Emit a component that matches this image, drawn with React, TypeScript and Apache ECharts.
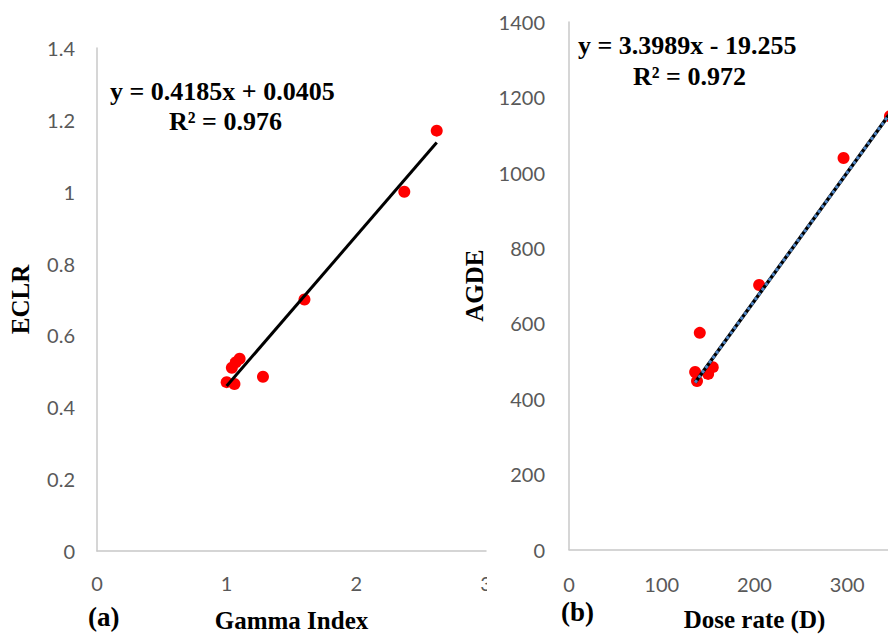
import React, { useEffect, useRef } from "react";
import * as echarts from "echarts";

// Panel (a): Gamma Index vs ECLR
const gammaIndex = [1.0, 1.06, 1.04, 1.07, 1.1, 1.28, 1.6, 2.37, 2.62];
const eclr = [0.47, 0.465, 0.51, 0.525, 0.535, 0.485, 0.70, 1.0, 1.17];
const fitA = { slope: 0.4185, intercept: 0.0405, r2: 0.976 };

// Panel (b): Dose rate vs AGDE
const doseRate = [136, 138, 141, 150, 155, 205, 296, 346];
const agde = [471, 447, 575, 466, 484, 702, 1039, 1150];
const fitB = { slope: 3.3989, intercept: -19.255, r2: 0.972 };

const tickFont = "Lato";
const serif = "'Liberation Serif', 'Times New Roman', serif";

function fitLine(xs: number[], f: { slope: number; intercept: number }) {
  const lo = Math.min(...xs);
  const hi = Math.max(...xs);
  return [
    [lo, f.slope * lo + f.intercept],
    [hi, f.slope * hi + f.intercept],
  ];
}

export default function App() {
  const ref = useRef<HTMLDivElement>(null);
  useEffect(() => {
    if (!ref.current) return;
    const chart = echarts.init(ref.current, null, { renderer: "svg" });
    const axisLine = { show: true, lineStyle: { color: "#c8c8c8", width: 1.5 } };
    const axisLabel = {
      color: "#595959", fontFamily: tickFont, fontSize: 20,
      formatter: (v: number) => String(v),
    };
    const nameStyle = { color: "#000", fontFamily: serif, fontWeight: "bold" as const, fontSize: 25 };
    chart.setOption({
      animation: false,
      backgroundColor: "#fff",
      grid: [
        { left: 97, top: 48, width: 389, height: 503, containLabel: false, outerBoundsMode: "none" },
        { left: 569, top: 22, width: 371, height: 527.5, containLabel: false, outerBoundsMode: "none" },
      ],
      xAxis: [
        {
          gridIndex: 0, type: "value", min: 0, max: 3, interval: 1,
          axisLine, axisTick: { show: false }, splitLine: { show: false },
          axisLabel: { ...axisLabel, margin: 22 },
          name: "Gamma Index", nameLocation: "middle", nameGap: 57, nameTextStyle: nameStyle,
        },
        {
          gridIndex: 1, type: "value", min: 0, max: 400, interval: 100,
          axisLine, axisTick: { show: false }, splitLine: { show: false },
          axisLabel: { ...axisLabel, margin: 24, showMaxLabel: false },
          name: "Dose rate (D)", nameLocation: "middle", nameGap: 57, nameTextStyle: nameStyle,
          nameTextStyleOffset: 0,
        },
      ],
      yAxis: [
        {
          gridIndex: 0, type: "value", min: 0, max: 1.4, interval: 0.2,
          axisLine, axisTick: { show: false }, splitLine: { show: false },
          axisLabel: { ...axisLabel, margin: 22 },
          name: "ECLR", nameLocation: "middle", nameGap: 64, nameTextStyle: nameStyle,
        },
        {
          gridIndex: 1, type: "value", min: 0, max: 1400, interval: 200,
          axisLine, axisTick: { show: false }, splitLine: { show: false },
          axisLabel: { ...axisLabel, margin: 24 },
          name: "AGDE", nameLocation: "middle", nameGap: 82, nameTextStyle: nameStyle,
        },
      ],
      series: [
        {
          type: "line", xAxisIndex: 0, yAxisIndex: 0, data: fitLine(gammaIndex, fitA),
          symbol: "none", lineStyle: { color: "#000", width: 3 }, z: 3,
        },
        {
          type: "scatter", xAxisIndex: 0, yAxisIndex: 0,
          data: gammaIndex.map((x, i) => [x, eclr[i]]),
          symbolSize: 12, itemStyle: { color: "#ff0000", opacity: 1 }, z: 2,
        },
        {
          type: "scatter", xAxisIndex: 1, yAxisIndex: 1,
          data: doseRate.map((x, i) => [x, agde[i]]),
          symbolSize: 12, itemStyle: { color: "#ff0000", opacity: 1 }, z: 2,
        },
        {
          type: "line", xAxisIndex: 1, yAxisIndex: 1, data: fitLine(doseRate, fitB),
          symbol: "none", lineStyle: { color: "#000", width: 3.5 }, z: 3,
        },
        {
          type: "line", xAxisIndex: 1, yAxisIndex: 1, data: fitLine(doseRate, fitB),
          symbol: "none", lineStyle: { color: "#4f86c6", width: 3, type: [3, 3] }, z: 4,
        },
      ],
      graphic: [
        {
          type: "rect", shape: { x: 487, y: 565, width: 12, height: 40 },
          style: { fill: "#fff" }, z: 100,
        },
        {
          type: "text", left: 110, top: 78,
          style: { text: `y = ${fitA.slope}x + ${fitA.intercept}`, font: `bold 26px ${serif}`, fill: "#000" },
        },
        {
          type: "text", left: 169, top: 108,
          style: { text: `R² = ${fitA.r2}`, font: `bold 26px ${serif}`, fill: "#000" },
        },
        {
          type: "text", left: 578, top: 32,
          style: { text: `y = ${fitB.slope}x - ${Math.abs(fitB.intercept)}`, font: `bold 26px ${serif}`, fill: "#000" },
        },
        {
          type: "text", left: 633, top: 63,
          style: { text: `R² = ${fitB.r2}`, font: `bold 26px ${serif}`, fill: "#000" },
        },
        {
          type: "text", left: 88, top: 603,
          style: { text: "(a)", font: `bold 27px ${serif}`, fill: "#000" },
        },
        {
          type: "text", left: 561, top: 598,
          style: { text: "(b)", font: `bold 27px ${serif}`, fill: "#000" },
        },
      ],
    });
    return () => chart.dispose();
  }, []);
  return (
    <div
      ref={ref}
      style={{ position: "fixed", left: 0, top: 0, width: 888, height: 634, overflow: "hidden" }}
    />
  );
}
